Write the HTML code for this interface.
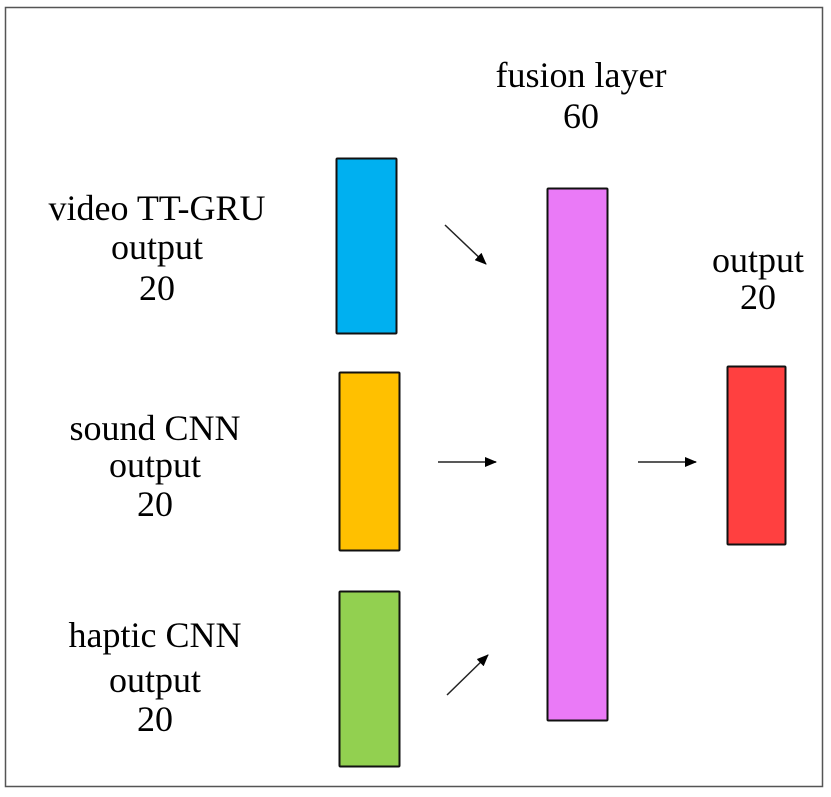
<!DOCTYPE html>
<html><head><style>
html,body{margin:0;padding:0;background:#fff;}
svg text{font-family:"Liberation Serif",serif;font-size:36px;fill:#000;text-anchor:middle;}
</style></head><body>
<svg width="831" height="792" xmlns="http://www.w3.org/2000/svg">
<defs><marker id="a" markerWidth="12" markerHeight="10" refX="11" refY="5" orient="auto" markerUnits="userSpaceOnUse"><path d="M0,0 L12,5 L0,10 Z" fill="#000"/></marker></defs>
<rect x="5.5" y="7.5" width="817" height="779" fill="#fff" stroke="#555" stroke-width="1.5"/>
<text x="157" y="220">video TT-GRU</text>
<text x="157" y="259">output</text>
<text x="157" y="300">20</text>
<text x="155" y="440">sound CNN</text>
<text x="155" y="477">output</text>
<text x="155" y="516">20</text>
<text x="155" y="647">haptic CNN</text>
<text x="155" y="692">output</text>
<text x="155" y="731">20</text>
<text x="581" y="87">fusion layer</text>
<text x="581" y="128">60</text>
<text x="758" y="272">output</text>
<text x="758" y="309">20</text>
<rect x="336.5" y="158.5" width="60" height="175" fill="#00b0f0" stroke="#111" stroke-width="2" rx="1"/>
<rect x="339.5" y="372.5" width="60" height="178" fill="#ffc000" stroke="#111" stroke-width="2" rx="1"/>
<rect x="339.5" y="591.5" width="60" height="175" fill="#92d050" stroke="#111" stroke-width="2" rx="1"/>
<rect x="547.5" y="188.5" width="60" height="532" fill="#ea7af7" stroke="#111" stroke-width="2" rx="1"/>
<rect x="727.5" y="366.5" width="58" height="178" fill="#ff4040" stroke="#111" stroke-width="2" rx="1"/>
<g stroke="#222" stroke-width="1.5" fill="none" marker-end="url(#a)">
<line x1="445" y1="225" x2="486" y2="264"/>
<line x1="438" y1="462" x2="496" y2="462"/>
<line x1="447" y1="695" x2="488" y2="655"/>
<line x1="638" y1="462" x2="696" y2="462"/>
</g>
</svg>
</body></html>
